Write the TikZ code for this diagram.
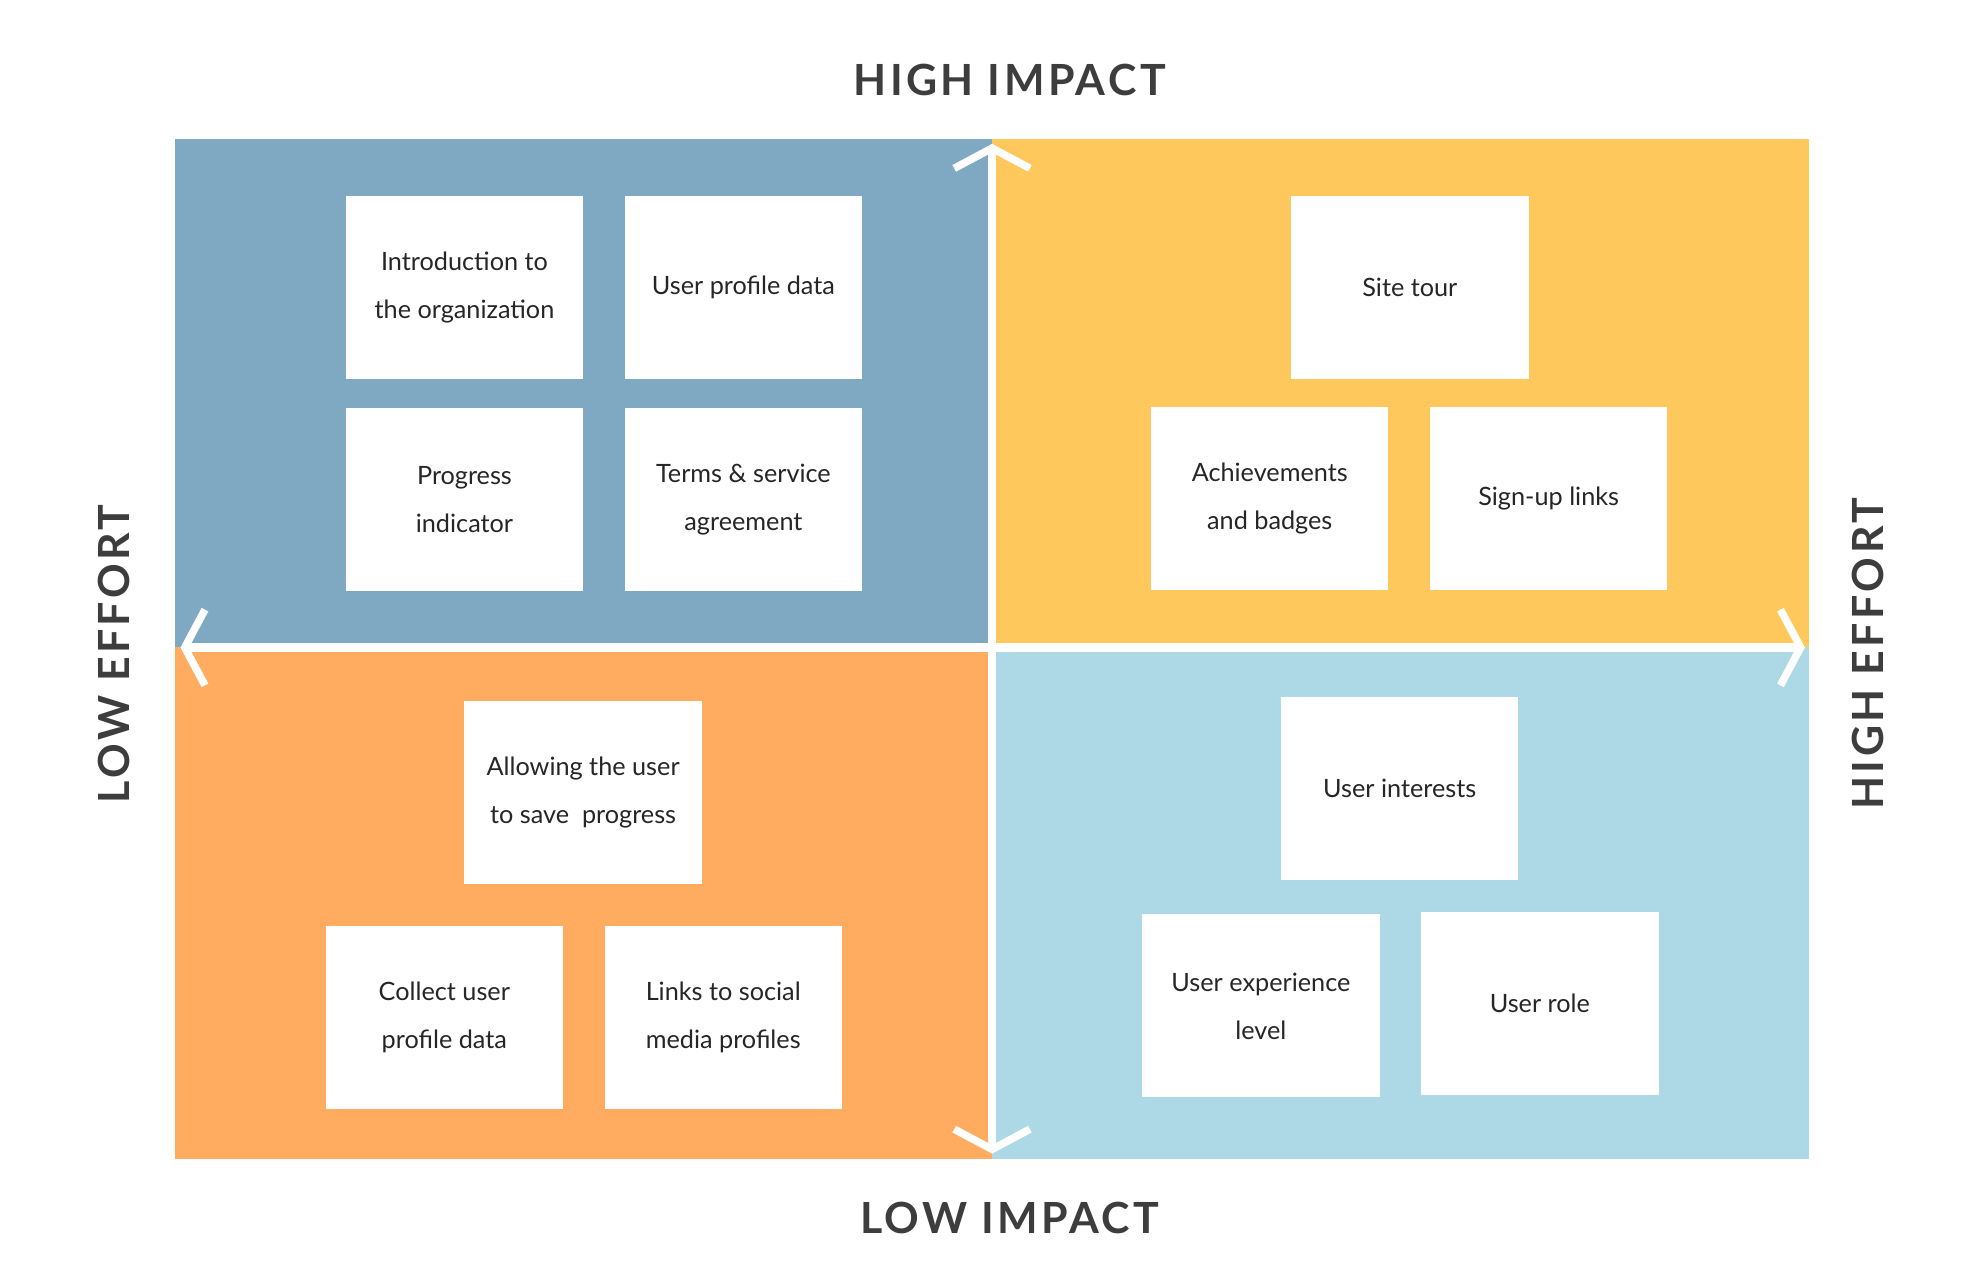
\documentclass[tikz,border=0pt]{standalone}
\usepackage{fontspec}
\setmainfont{Lato}
\usetikzlibrary{arrows.meta,positioning}
\definecolor{quadtl}{HTML}{7FA9C3}
\definecolor{quadtr}{HTML}{FFC85C}
\definecolor{quadbl}{HTML}{FFAB60}
\definecolor{quadbr}{HTML}{ADD8E5}
\definecolor{labelgray}{HTML}{3D3D3D}
\tikzset{
x=0.5pt, y=-0.5pt,
card/.style={fill=white,minimum width=94pt,minimum height=72.5pt,align=center,
  font=\fontsize{10}{19}\selectfont,text=black!85,inner sep=2pt,
  drop shadow/.style={}},
heading/.style={font=\fontsize{17}{20}\bfseries\selectfont,text=labelgray},
axis/.style={white,line width=3.5pt,line cap=round,
  arrows={Straight Barb[length=8pt,width=30pt,line width=3pt]-Straight Barb[length=8pt,width=30pt,line width=3pt]}}
}
\newcommand{\spaced}[1]{\addfontfeature{LetterSpace=8}#1}
\begin{document}
\begin{tikzpicture}
\useasboundingbox (0,0) rectangle (1560,1020);
\fill[white] (0,0) rectangle (1560,1020);
% quadrants
\fill[quadtl] (139,110) rectangle (786,513);
\fill[quadtr] (786,110) rectangle (1433,513);
\fill[quadbl] (139,513) rectangle (786,918);
\fill[quadbr] (786,513) rectangle (1433,918);
% axes
\coordinate (west) at (143,513);
\coordinate (east) at (1430,513);
\coordinate (north) at (786,114);
\coordinate (south) at (786,914);
\draw[axis] (west) -- (east);
\draw[axis] (north) -- (south);
% axis labels
\node[heading] (hi)  at (800,63)  {\spaced{HIGH IMPACT}};
\node[heading] (lo)  at (800,965) {\spaced{LOW IMPACT}};
\node[heading,rotate=90] (le) at (90,518)   {\spaced{LOW EFFORT}};
\node[heading,rotate=90] (he) at (1480,518) {\spaced{HIGH EFFORT}};
% top left
\node[card] (intro)   at (368,228) {Introduction to\\the organization};
\node[card] (profile) at (589,228) {User profile data};
\node[card] (progind) at (368,396) {Progress\\indicator};
\node[card] (terms)   at (589,396) {Terms \& service\\agreement};
% top right
\node[card] (tour)    at (1117,228) {Site tour};
\node[card] (badges)  at (1006,395) {Achievements\\and badges};
\node[card] (signup)  at (1227,395) {Sign-up links};
% bottom left
\node[card] (save)    at (462,628) {Allowing the user\\to save\ \ progress};
\node[card] (collect) at (352,806) {Collect user\\profile data};
\node[card] (social)  at (573,806) {Links to social\\media profiles};
% bottom right
\node[card] (interest) at (1109,625) {User interests};
\node[card] (explevel) at (999,797)  {User experience\\level};
\node[card] (role)     at (1220,795) {User role};
\end{tikzpicture}
\end{document}
